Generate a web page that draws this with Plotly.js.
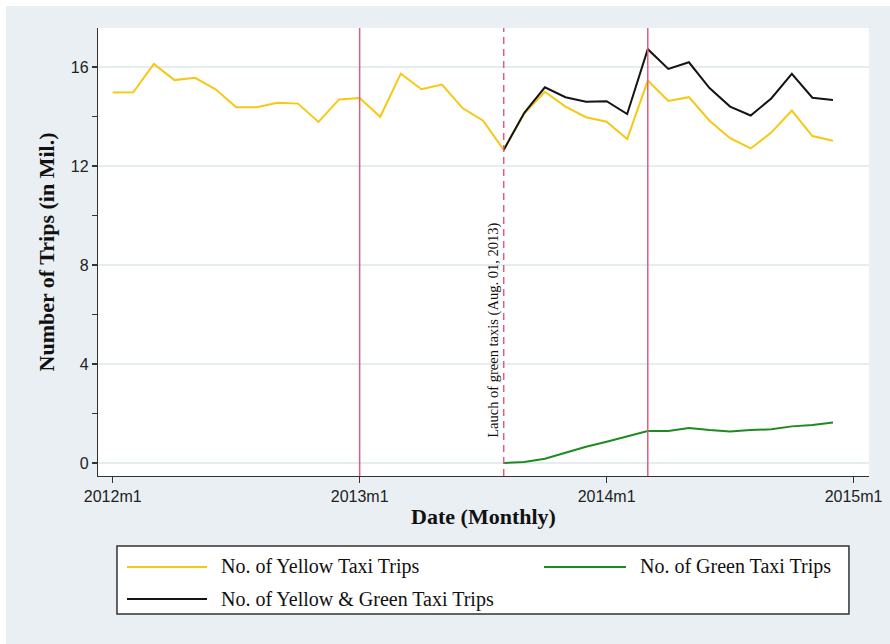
<!DOCTYPE html>
<html>
<head>
<meta charset="utf-8">
<script src="https://cdn.plot.ly/plotly-3.0.1.min.js"></script>
<style>
  html, body { margin: 0; padding: 0; background: #ffffff; }
  #chart { position: absolute; left: 6px; top: 6px; width: 884px; height: 638px; }
</style>
</head>
<body>
<div id="chart"></div>
<script>
// ---- data ----
const months = ['2012m1','2012m2','2012m3','2012m4','2012m5','2012m6','2012m7','2012m8','2012m9','2012m10','2012m11','2012m12',
                '2013m1','2013m2','2013m3','2013m4','2013m5','2013m6','2013m7','2013m8','2013m9','2013m10','2013m11','2013m12',
                '2014m1','2014m2','2014m3','2014m4','2014m5','2014m6','2014m7','2014m8','2014m9','2014m10','2014m11','2014m12'];
const yellowTrips = [14.97, 14.98, 16.12, 15.47, 15.56, 15.10, 14.37, 14.37, 14.55, 14.52, 13.78, 14.69,
                     14.75, 13.99, 15.73, 15.10, 15.29, 14.34, 13.83, 12.65, 14.12, 15.00, 14.40, 13.97,
                     13.79, 13.09, 15.45, 14.63, 14.78, 13.83, 13.12, 12.71, 13.35, 14.24, 13.21, 13.02];
const greenMonths = ['2013m8','2013m9','2013m10','2013m11','2013m12','2014m1','2014m2','2014m3','2014m4',
                     '2014m5','2014m6','2014m7','2014m8','2014m9','2014m10','2014m11','2014m12'];
const greenTrips = [0.00, 0.04, 0.17, 0.42, 0.66, 0.86, 1.06, 1.29, 1.29, 1.41, 1.33, 1.27, 1.33, 1.36, 1.48, 1.54, 1.64];
const totalTrips = [12.65, 14.15, 15.18, 14.78, 14.60, 14.62, 14.10, 16.72, 15.92, 16.19, 15.15, 14.40, 14.04, 14.73, 15.72, 14.76, 14.67];
const seriesNames = ['No. of Yellow Taxi Trips', 'No. of Green Taxi Trips', 'No. of Yellow & Green Taxi Trips'];
const seriesColors = ['#f6c814', '#1f8a1f', '#141414'];
const xTickLabels = ['2012m1', '2013m1', '2014m1', '2015m1'];
const yTickVals = [0, 4, 8, 12, 16];
const eventMonths = ['2013m1', '2013m8', '2014m3'];
const eventDash = ['solid', '7px,5px', 'solid'];
const launchLabel = 'Lauch of green taxis (Aug. 01, 2013)';

// Stata %tm style: month index since 2012m1
function monthIndex(s) {
  const p = s.split('m');
  return (parseInt(p[0], 10) - 2012) * 12 + (parseInt(p[1], 10) - 1);
}

const xYellow = months.map(monthIndex);
const xGreen = greenMonths.map(monthIndex);

const serif = 'Liberation Serif, Times New Roman, serif';
const sans = 'Liberation Sans, Arial, sans-serif';

const traces = [
  { x: xYellow, y: yellowTrips, type: 'scatter', mode: 'lines', name: seriesNames[0],
    line: { color: seriesColors[0], width: 2 } },
  { x: xGreen, y: greenTrips, type: 'scatter', mode: 'lines', name: seriesNames[1],
    line: { color: seriesColors[1], width: 2 } },
  { x: xGreen, y: totalTrips, type: 'scatter', mode: 'lines', name: seriesNames[2],
    line: { color: seriesColors[2], width: 2 } }
];

const shapes = eventMonths.map((m, i) => ({
  type: 'line', xref: 'x', yref: 'paper', x0: monthIndex(m), x1: monthIndex(m), y0: 0, y1: 1,
  line: { color: '#d9607f', width: 1.5, dash: eventDash[i] }, layer: 'above'
}));

// legend box (drawn manually to match the Stata layout)
const legBox = { x0: 0.0246, x1: 0.974, y0: -0.308, y1: -0.156 };
shapes.push({ type: 'rect', xref: 'paper', yref: 'paper', x0: legBox.x0, x1: legBox.x1, y0: legBox.y0, y1: legBox.y1,
  fillcolor: '#ffffff', line: { color: '#333333', width: 1.5 } });
const legItems = [
  { lx0: 0.0376, lx1: 0.1414, ly: -0.2031, tx: 0.1570 },
  { lx0: 0.5785, lx1: 0.6848, ly: -0.2031, tx: 0.7004 },
  { lx0: 0.0376, lx1: 0.1414, ly: -0.2746, tx: 0.1570 }
];
const annotations = [];
legItems.forEach((it, i) => {
  shapes.push({ type: 'line', xref: 'paper', yref: 'paper', x0: it.lx0, x1: it.lx1, y0: it.ly, y1: it.ly,
    line: { color: seriesColors[i], width: 2 } });
  annotations.push({ xref: 'paper', yref: 'paper', x: it.tx, y: it.ly, xanchor: 'left', yanchor: 'middle',
    text: seriesNames[i], showarrow: false, font: { family: serif, size: 20, color: '#111' } });
});

annotations.push({
  xref: 'x', yref: 'y', x: monthIndex(eventMonths[1]), y: 5.37, xshift: -11,
  text: launchLabel, textangle: -90, showarrow: false,
  font: { family: serif, size: 14.5, color: '#111' }
});

const layout = {
  width: 884, height: 638,
  margin: { l: 92, r: 21, t: 22, b: 168 },
  paper_bgcolor: '#e9eff2',
  plot_bgcolor: '#ffffff',
  showlegend: false,
  font: { family: sans, color: '#222' },
  xaxis: {
    range: [-0.714, 36.75], tickmode: 'array',
    tickvals: xTickLabels.map(monthIndex), ticktext: xTickLabels,
    ticks: 'outside', ticklen: 6, tickwidth: 1.2, tickcolor: '#333',
    showline: true, linecolor: '#333', linewidth: 1.2, mirror: false,
    showgrid: false, zeroline: false,
    tickfont: { family: sans, size: 16, color: '#222' },
    title: { text: 'Date (Monthly)', font: { family: serif, size: 22, color: '#111', weight: 'bold' }, standoff: 4 }
  },
  yaxis: {
    range: [-0.525, 17.575], tickmode: 'array', tickvals: yTickVals,
    ticks: 'outside', ticklen: 5, tickwidth: 1.2, tickcolor: '#333',
    showline: true, linecolor: '#333', linewidth: 1.2,
    showgrid: true, gridcolor: '#e6edf1', gridwidth: 1.2, zeroline: false,
    minor: { dtick: 2, tick0: 0, ticks: 'outside', ticklen: 5, tickwidth: 1.2, tickcolor: '#333', showgrid: false },
    tickfont: { family: sans, size: 16, color: '#222' },
    title: { text: 'Number of Trips (in Mil.)', font: { family: serif, size: 22, color: '#111', weight: 'bold' }, standoff: 10 }
  },
  shapes: shapes,
  annotations: annotations
};

Plotly.newPlot('chart', traces, layout, { displayModeBar: false, staticPlot: true });
</script>
</body>
</html>
